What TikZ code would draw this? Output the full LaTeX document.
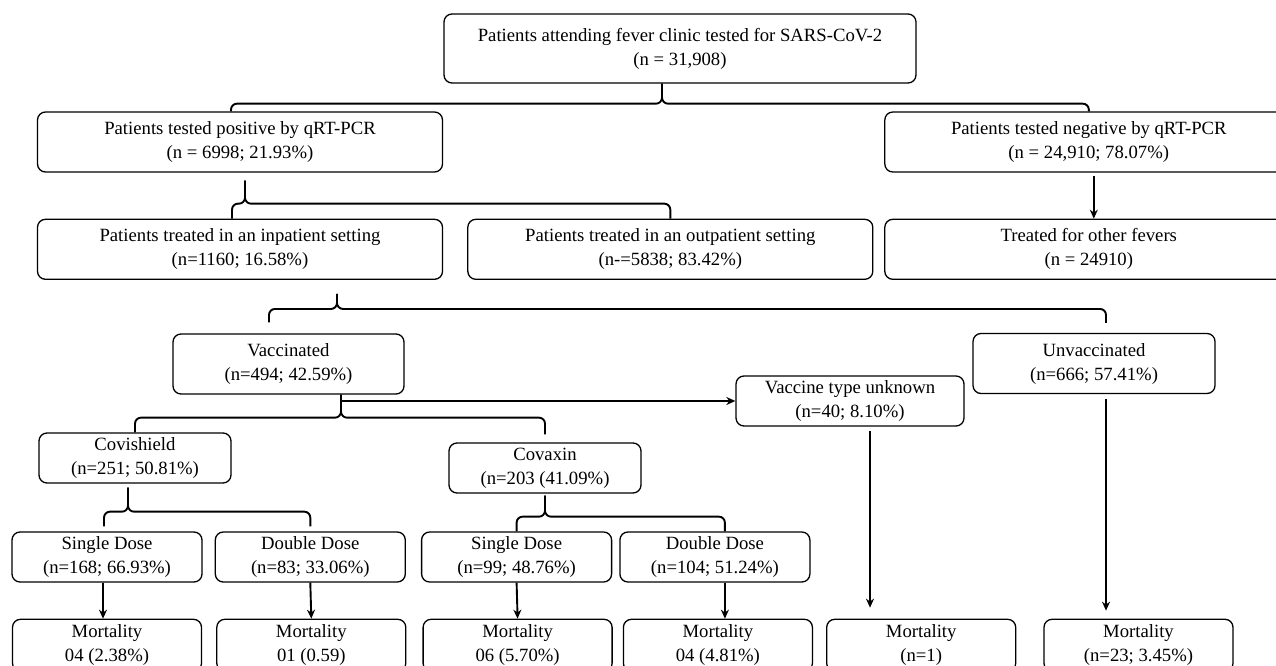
\documentclass[tikz,border=0pt]{standalone}
\usepackage{fontspec}
\setmainfont{Liberation Serif}
\usetikzlibrary{arrows.meta,positioning}

\begin{document}
\begin{tikzpicture}[
  x=1pt, y=-1pt,
  node distance=12pt,
  box/.style={draw,line width=1.3pt,rounded corners=8pt,align=center,
              inner sep=0pt,font=\fontsize{18.7}{24}\selectfont},
  big/.style={box,minimum width=405pt,minimum height=60pt},
  mid/.style={box,minimum width=231pt,minimum height=60pt},
  small/.style={box,minimum width=190pt,minimum height=50pt},
  mort/.style={box,minimum width=189pt,minimum height=52pt},
  fork/.style={line width=1.9pt,rounded corners=6pt},
  link/.style={line width=1.9pt,->},
  >={Stealth[length=9pt,width=8pt]}]
\useasboundingbox (0,0) rectangle (1276,666);
\clip (0,0) rectangle (1276,666);
% screening and PCR result
\node[box,minimum width=472pt,minimum height=69pt] (clinic) at (680,48.5)
  {Patients attending fever clinic tested for SARS-CoV-2\\(n = 31,908)};
\node[big] (pos) at (240,142) {Patients tested positive by qRT-PCR\\(n = 6998; 21.93\%)};
\node[big,minimum width=408pt,right=441pt of pos] (neg)
  {Patients tested negative by qRT-PCR\\(n = 24,910; 78.07\%)};
% treatment setting
\node[big,below=46pt of pos] (inpat) {Patients treated in an inpatient setting\\(n=1160; 16.58\%)};
\node[big,right=24pt of inpat] (outpat) {Patients treated in an outpatient setting\\(n-=5838; 83.42\%)};
\node[big,minimum width=408pt,below=46pt of neg] (other) {Treated for other fevers\\(n = 24910)};
% vaccination status
\node[mid] (vacc) at (288.5,364) {Vaccinated\\(n=494; 42.59\%)};
\node[mid,minimum width=242pt] (unvacc) at (1094,363.5) {Unvaccinated\\(n=666; 57.41\%)};
\node[small,minimum width=228pt] (vtu) at (850,401) {Vaccine type unknown\\(n=40; 8.10\%)};
\node[small,minimum width=192pt] (covi) at (135,458) {Covishield\\(n=251; 50.81\%)};
\node[small,minimum width=192pt] (cova) at (545,468) {Covaxin\\(n=203 (41.09\%)};
% doses
\node[small] (sd1) at (107,557) {Single Dose\\(n=168; 66.93\%)};
\node[small,right=12pt of sd1] (dd1) {Double Dose\\(n=83; 33.06\%)};
\node[small,right=15pt of dd1] (sd2) {Single Dose\\(n=99; 48.76\%)};
\node[small,right=7pt of sd2] (dd2) {Double Dose\\(n=104; 51.24\%)};
% outcome
\node[mort,below=36pt of sd1] (m1) {Mortality\\04 (2.38\%)};
\node[mort,right=14pt of m1] (m2) {Mortality\\01 (0.59)};
\node[mort,right=16pt of m2] (m3) {Mortality\\06 (5.70\%)};
\node[mort,right=10pt of m3] (m4) {Mortality\\04 (4.81\%)};
\node[mort,right=13pt of m4] (m5) {Mortality\\(n=1)};
\node[mort,right=27pt of m5] (m6) {Mortality\\(n=23; 3.45\%)};
% brackets
\draw[fork] ([xshift=-9pt]pos.north) |- ([xshift=-18pt,yshift=-20pt]clinic.south) -- ([xshift=-18pt]clinic.south);
\draw[fork] (neg.north) |- ([xshift=-18pt,yshift=-20pt]clinic.south) -- ([xshift=-18pt]clinic.south);
\draw[fork] ([xshift=-8pt]inpat.north) |- ([xshift=5pt,yshift=-31pt]pos.south) -- ([xshift=5pt,yshift=-8pt]pos.south);
\draw[fork] (outpat.north) |- ([xshift=5pt,yshift=-31pt]pos.south) -- ([xshift=5pt,yshift=-8pt]pos.south);
\draw[fork] ([xshift=-19.5pt,yshift=11pt]vacc.north) |- ([xshift=97pt,yshift=-29pt]inpat.south) -- ([xshift=97pt,yshift=-14pt]inpat.south);
\draw[fork] ([xshift=12pt,yshift=10pt]unvacc.north) |- ([xshift=97pt,yshift=-29pt]inpat.south) -- ([xshift=97pt,yshift=-14pt]inpat.south);
\draw[fork] (covi.north) |- ([xshift=52.5pt,yshift=-23pt]vacc.south) -- ([xshift=52.5pt]vacc.south);
\draw[fork] ([yshift=8pt]cova.north) |- ([xshift=52.5pt,yshift=-23pt]vacc.south) -- ([xshift=52.5pt]vacc.south);
\draw[fork] ([xshift=-3pt,yshift=5pt]sd1.north) |- ([xshift=-7pt,yshift=-28pt]covi.south) -- ([xshift=-7pt,yshift=-4pt]covi.south);
\draw[fork] ([yshift=5pt]dd1.north) |- ([xshift=-7pt,yshift=-28pt]covi.south) -- ([xshift=-7pt,yshift=-4pt]covi.south);
\draw[fork] (sd2.north) |- ([yshift=-23pt]cova.south) -- ([yshift=-2pt]cova.south);
\draw[fork] ([xshift=10pt]dd2.north) |- ([yshift=-23pt]cova.south) -- ([yshift=-2pt]cova.south);
% arrows
\draw[link] ([xshift=52.5pt]vacc.south |- vtu.west) -- (vtu.west);
\draw[link] ([xshift=5pt,yshift=-3pt]neg.south) -- ([xshift=5pt]other.north);
\draw[link] ([xshift=-4pt]sd1.south) -- ([xshift=-4pt]m1.north);
\draw[link] (dd1.south) -- (m2.north);
\draw[link] (sd2.south) -- (m3.north);
\draw[link] ([xshift=10pt]dd2.south) -- ([xshift=10pt]dd2.south |- m4.north);
\draw[link,shorten >=11pt] ([xshift=20pt,yshift=-4pt]vtu.south) -- ([xshift=20pt]vtu.south |- m5.north);
\draw[link,shorten >=8pt] ([xshift=12pt,yshift=-5pt]unvacc.south) -- ([xshift=12pt]unvacc.south |- m6.north);
\end{tikzpicture}
\end{document}
